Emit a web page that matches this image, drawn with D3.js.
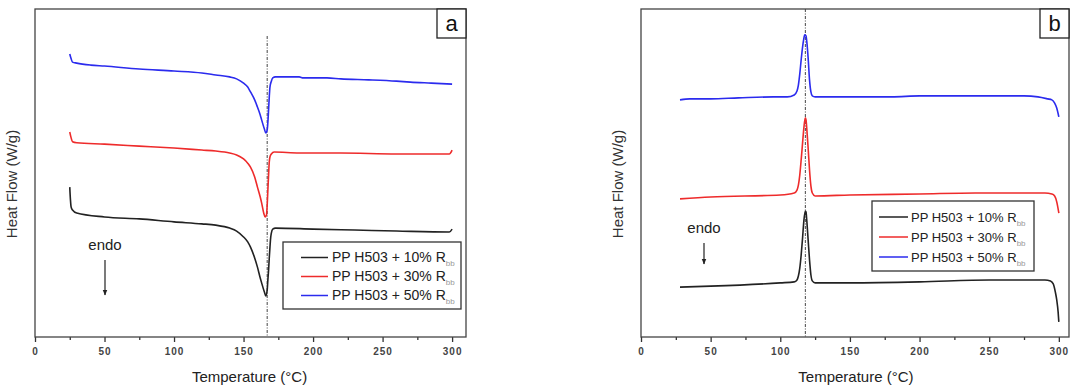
<!DOCTYPE html>
<html>
<head>
<meta charset="utf-8">
<script src="https://cdn.jsdelivr.net/npm/d3@7"></script>
<style>
  body { margin: 0; background: #fff; }
  svg { font-family: "Liberation Sans", Arial, sans-serif; }
</style>
</head>
<body>
<div id="chart"></div>
<script>
// --- data (heat flow in arbitrary units, no y ticks on the original) ---
const seriesNames = ['PP H503 + 10% R', 'PP H503 + 30% R', 'PP H503 + 50% R'];
const seriesSub = 'bb';
const seriesColors = ['#222222', '#ee2b2b', '#2b2bee'];
const xTicks = [0, 50, 100, 150, 200, 250, 300];
const xMinorTicks = [25, 75, 125, 175, 225, 275];

// panel a (melting)
const aBlackT = [25, 25.5, 26, 27, 30, 50, 75, 100, 120, 130, 140, 145, 150, 153, 155, 158, 160, 162, 163, 165, 166, 167, 167.5, 168, 168.5, 169, 169.5, 170, 171, 173, 200, 230, 260, 298, 300];
const aBlackV = [4.57, 4.18, 3.96, 3.87, 3.78, 3.66, 3.60, 3.51, 3.45, 3.41, 3.32, 3.23, 3.05, 2.90, 2.74, 2.41, 2.13, 1.80, 1.65, 1.37, 1.25, 1.43, 1.74, 2.04, 2.41, 2.74, 3.02, 3.17, 3.29, 3.32, 3.29, 3.26, 3.23, 3.20, 3.29];
const aRedT = [25, 26, 27, 30, 50, 75, 100, 120, 130, 140, 145, 150, 153, 155, 158, 160, 162, 163, 164.5, 165.5, 166.5, 167, 167.5, 168, 168.5, 169, 170, 172, 190, 220, 260, 298, 300];
const aRedV = [6.25, 6.07, 5.95, 5.92, 5.88, 5.82, 5.76, 5.70, 5.67, 5.61, 5.55, 5.43, 5.30, 5.18, 4.88, 4.57, 4.27, 4.09, 3.78, 3.66, 3.72, 4.02, 4.48, 4.94, 5.34, 5.49, 5.58, 5.64, 5.61, 5.61, 5.58, 5.58, 5.70];
const aBlueT = [25, 26, 27, 30, 40, 50, 75, 100, 120, 130, 140, 145, 150, 153, 155, 158, 160, 162, 163, 165, 166, 167, 167.5, 168, 168.5, 169, 170, 171, 173, 190, 193, 210, 220, 240, 260, 270, 285, 300];
const aBlueV = [8.63, 8.48, 8.38, 8.35, 8.29, 8.26, 8.17, 8.11, 8.05, 7.99, 7.93, 7.87, 7.74, 7.62, 7.47, 7.23, 7.01, 6.77, 6.62, 6.34, 6.22, 6.31, 6.55, 6.92, 7.32, 7.62, 7.80, 7.90, 7.93, 7.93, 7.90, 7.90, 7.87, 7.84, 7.80, 7.77, 7.74, 7.71];

// panel b (crystallisation)
const bBlackT = [28, 50, 100, 110, 112, 113, 114, 115, 116, 117, 118, 118.5, 119, 120, 121, 122, 123, 125, 150, 200, 250, 290, 294, 296, 297.5, 298.5, 299.5, 300];
const bBlackV = [1.52, 1.55, 1.65, 1.68, 1.74, 1.86, 2.10, 2.50, 3.02, 3.57, 3.84, 3.81, 3.57, 2.96, 2.35, 1.89, 1.71, 1.65, 1.65, 1.68, 1.74, 1.74, 1.71, 1.62, 1.37, 1.13, 0.76, 0.46];
const bRedT = [28, 50, 100, 110, 112, 113, 114, 115, 116, 117, 118, 118.5, 119, 120, 121, 122, 123, 125, 150, 200, 240, 290, 295, 297, 298.5, 300];
const bRedV = [4.21, 4.27, 4.33, 4.39, 4.48, 4.63, 4.94, 5.40, 5.91, 6.40, 6.68, 6.62, 6.37, 5.76, 5.09, 4.60, 4.39, 4.30, 4.33, 4.36, 4.39, 4.39, 4.36, 4.30, 4.12, 3.78];
const bBlueT = [28, 35, 50, 70, 95, 105, 110, 112, 113, 114, 115, 116, 117, 117.5, 118.5, 119, 120, 121, 122, 123, 125, 180, 200, 275, 285, 292, 295, 297, 298.5, 300];
const bBlueV = [7.23, 7.26, 7.26, 7.29, 7.32, 7.32, 7.38, 7.50, 7.68, 8.02, 8.45, 8.84, 9.12, 9.21, 9.18, 9.02, 8.51, 7.84, 7.47, 7.35, 7.32, 7.32, 7.35, 7.35, 7.32, 7.26, 7.23, 7.13, 6.98, 6.71];

const aPeakT = 167;
const bPeakT = 118;

const zip = (ts, vs) => ts.map((t, i) => [t, vs[i]]);

const panels = [
  {
    label: 'a', left: 35, right: 466, xMax: 310, peak: aPeakT, peakTop: 36,
    series: [zip(aBlackT, aBlackV), zip(aRedT, aRedV), zip(aBlueT, aBlueV)],
    legend: {x: 283, y: 242, w: 178, h: 67, line0: 18, line1: 45, text: 49, font: 14},
    endo: {x: 105, y: 250, len: 45}
  },
  {
    label: 'b', left: 641, right: 1069, xMax: 307.3, peak: bPeakT, peakTop: 9,
    series: [zip(bBlackT, bBlackV), zip(bRedT, bRedV), zip(bBlueT, bBlueV)],
    legend: {x: 872, y: 201, w: 162, h: 70, line0: 7, line1: 36, text: 39, font: 13},
    endo: {x: 704, y: 233, len: 31}
  }
];

const plotTop = 9, plotBottom = 337;

const svg = d3.select('#chart')
  .append('svg')
  .attr('width', 1076)
  .attr('height', 386);

svg.append('defs').append('marker')
  .attr('id', 'arrow')
  .attr('viewBox', '0 0 10 10')
  .attr('refX', 9).attr('refY', 5)
  .attr('markerWidth', 5).attr('markerHeight', 7)
  .attr('orient', 'auto')
  .append('path')
  .attr('d', 'M0,1 L10,5 L0,9 Z')
  .attr('fill', '#222');

panels.forEach(p => {
  const x = d3.scaleLinear().domain([0, p.xMax]).range([p.left, p.right]);
  const y = d3.scaleLinear().domain([0, 10]).range([plotBottom, plotTop]);
  const g = svg.append('g');

  // x axis, major + minor
  const ax = g.append('g')
    .attr('transform', 'translate(0,' + plotBottom + ')')
    .call(d3.axisBottom(x).tickValues(xTicks).tickSize(5).tickPadding(6));
  ax.select('.domain').remove();
  ax.selectAll('line').attr('stroke', '#333').attr('stroke-width', 1.3);
  ax.selectAll('text')
    .attr('font-size', 10)
    .attr('font-weight', 'bold')
    .attr('letter-spacing', 1)
    .attr('fill', '#444');

  g.append('g')
    .attr('transform', 'translate(0,' + plotBottom + ')')
    .call(d3.axisBottom(x).tickValues(xMinorTicks).tickSize(3).tickFormat(''))
    .call(s => s.select('.domain').remove())
    .selectAll('line').attr('stroke', '#333').attr('stroke-width', 1.3);

  // frame
  g.append('rect')
    .attr('x', p.left).attr('y', plotTop)
    .attr('width', p.right - p.left).attr('height', plotBottom - plotTop)
    .attr('fill', 'none')
    .attr('stroke', '#444')
    .attr('stroke-width', 1.3);

  // peak guide
  g.append('line')
    .attr('x1', x(p.peak)).attr('x2', x(p.peak))
    .attr('y1', p.peakTop).attr('y2', plotBottom)
    .attr('stroke', '#444')
    .attr('stroke-width', 1)
    .attr('stroke-dasharray', '3,1.5,1,1.5');

  const line = d3.line()
    .curve(d3.curveMonotoneX)
    .x(d => x(d[0]))
    .y(d => y(d[1]));

  p.series.forEach((s, i) => {
    g.append('path')
      .datum(s)
      .attr('fill', 'none')
      .attr('stroke', seriesColors[i])
      .attr('stroke-width', 1.6)
      .attr('d', line);
  });

  // panel label box
  g.append('rect')
    .attr('x', p.right - 29).attr('y', plotTop)
    .attr('width', 29).attr('height', 29)
    .attr('fill', '#fff')
    .attr('stroke', '#222')
    .attr('stroke-width', 1.3);
  g.append('text')
    .attr('x', p.right - 14.5).attr('y', plotTop + 22)
    .attr('text-anchor', 'middle')
    .attr('font-size', 22)
    .attr('fill', '#111')
    .text(p.label);

  // legend
  const L = p.legend;
  g.append('rect')
    .attr('x', L.x).attr('y', L.y)
    .attr('width', L.w).attr('height', L.h)
    .attr('fill', '#fff')
    .attr('stroke', '#333')
    .attr('stroke-width', 1.3);
  const rowH = (L.h - 10) / 3;
  seriesNames.forEach((name, i) => {
    const ry = L.y + 5 + rowH * (i + 0.5) + 1;
    g.append('line')
      .attr('x1', L.x + L.line0).attr('x2', L.x + L.line1)
      .attr('y1', ry).attr('y2', ry)
      .attr('stroke', seriesColors[i])
      .attr('stroke-width', 1.5);
    const t = g.append('text')
      .attr('x', L.x + L.text).attr('y', ry + 4.5)
      .attr('font-size', L.font)
      .attr('fill', '#222')
      .text(name);
    t.append('tspan')
      .attr('dy', 4)
      .attr('font-size', 8)
      .attr('fill', '#999')
      .text(seriesSub);
  });

  // endo note
  g.append('text')
    .attr('x', p.endo.x).attr('y', p.endo.y)
    .attr('text-anchor', 'middle')
    .attr('font-size', 15)
    .attr('fill', '#222')
    .text('endo');
  g.append('line')
    .attr('x1', p.endo.x).attr('x2', p.endo.x)
    .attr('y1', p.endo.y + 10).attr('y2', p.endo.y + p.endo.len)
    .attr('stroke', '#222')
    .attr('stroke-width', 1.2)
    .attr('marker-end', 'url(#arrow)');

  // axis titles
  g.append('text')
    .attr('x', (x(0) + x(300)) / 2 + 6).attr('y', 382)
    .attr('text-anchor', 'middle')
    .attr('font-size', 15)
    .attr('fill', '#222')
    .text('Temperature (°C)');
  g.append('text')
    .attr('transform', 'translate(' + (p.left - 18) + ',' + 184 + ') rotate(-90)')
    .attr('text-anchor', 'middle')
    .attr('font-size', 15)
    .attr('fill', '#333')
    .text('Heat Flow (W/g)');
});
</script>
</body>
</html>
